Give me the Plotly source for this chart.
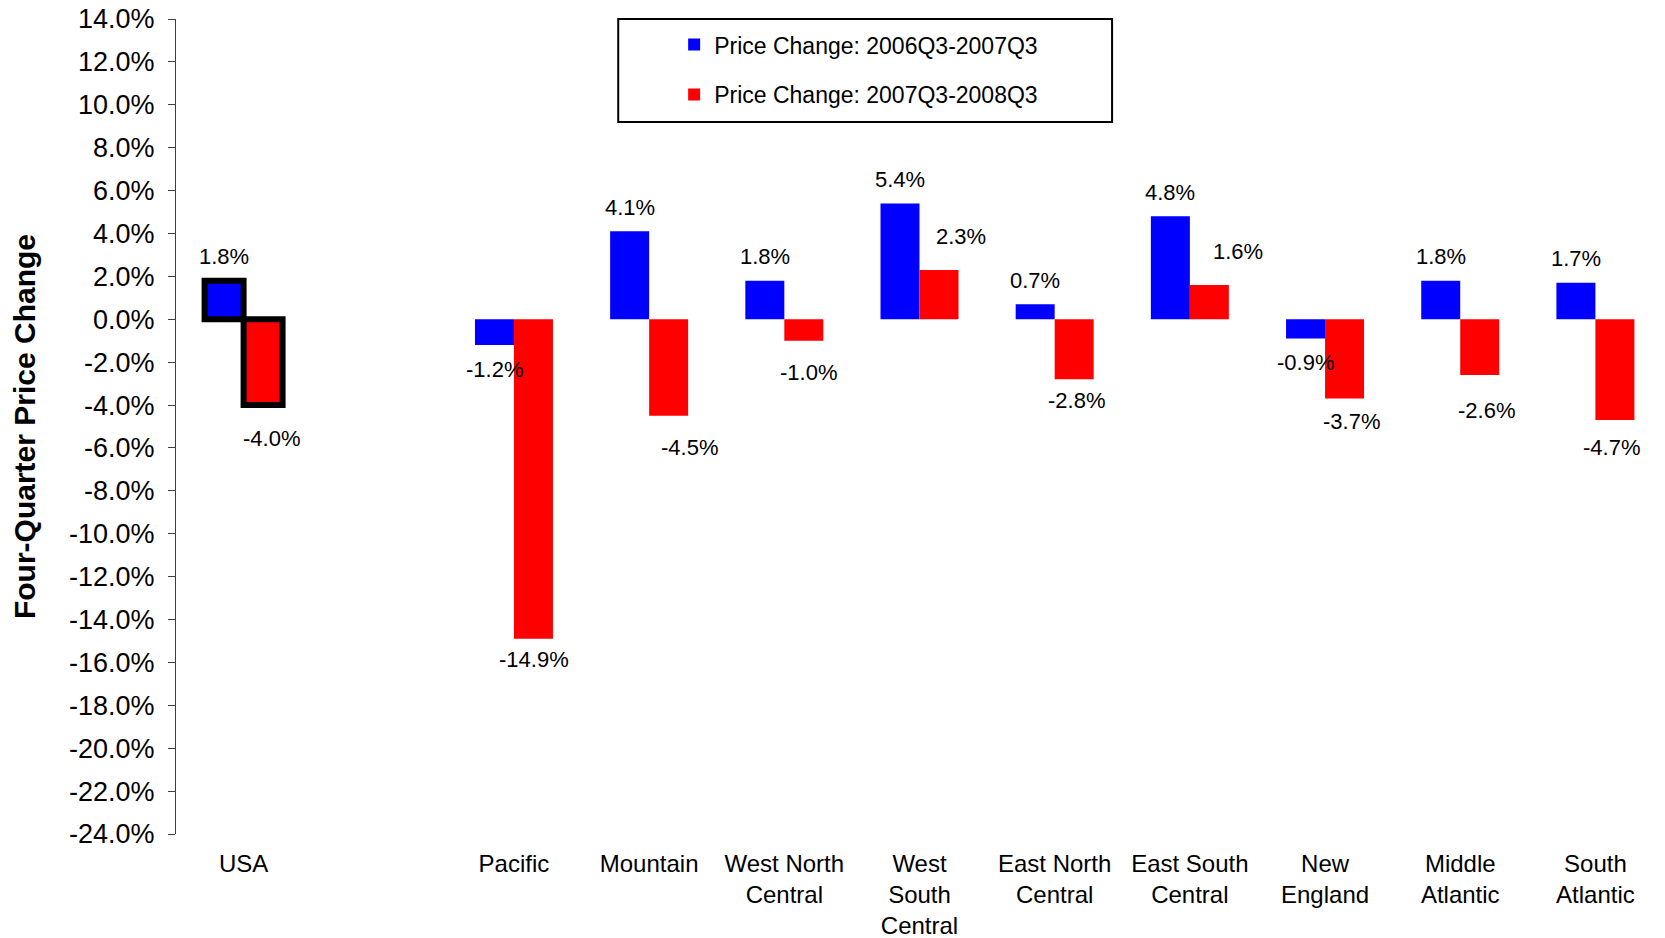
import plotly.graph_objects as go

# ---- data ----
categories = ["USA", " ", "Pacific", "Mountain", "West North<br>Central",
              "West<br>South<br>Central", "East North<br>Central",
              "East South<br>Central", "New<br>England", "Middle<br>Atlantic",
              "South<br>Atlantic"]
change_2006_2007 = [1.8, None, -1.2, 4.1, 1.8, 5.4, 0.7, 4.8, -0.9, 1.8, 1.7]
change_2007_2008 = [-4.0, None, -14.9, -4.5, -1.0, 2.3, -2.8, 1.6, -3.7, -2.6, -4.7]
series_names = ["Price Change: 2006Q3-2007Q3", "Price Change: 2007Q3-2008Q3"]
y_tick_values = list(range(-24, 15, 2))
y_tick_labels = [f"{v:.1f}%" for v in y_tick_values]

# ---- style ----
FONT = "Arial, Liberation Sans, sans-serif"
BLUE = "#0000FF"
RED = "#FF0000"
# manual label nudges (dx, dy in px; dy>0 means away from the bar end)
red_label_nudge = [(8, 33), None, (0, 21), (21, 32), (5, 32), (22, 33),
                   (2, 21), (29, 33), (7, 23), (7, 35), (-4, 27)]
blue_label_gap = 24
half_bar = 19.6

highlight_width = [6 if c == "USA" else 0 for c in categories]

# order points so the first drawn point is un-outlined (keeps legend icons clean)
order = list(range(1, len(categories))) + [0]

def reorder(seq):
    return [seq[i] for i in order]

fig = go.Figure()
fig.add_trace(go.Bar(
    x=reorder(categories), y=reorder(change_2006_2007), name=series_names[0],
    marker=dict(color=BLUE, line=dict(color="black", width=reorder(highlight_width))),
    legendgroup="a", hoverinfo="skip"))
fig.add_trace(go.Bar(
    x=reorder(categories), y=reorder(change_2007_2008), name=series_names[1],
    marker=dict(color=RED, line=dict(color="black", width=reorder(highlight_width))),
    legendgroup="b", hoverinfo="skip"))

annotations = []
for i, c in enumerate(categories):
    v = change_2006_2007[i]
    if v is not None:
        annotations.append(dict(
            x=c, y=v, xref="x", yref="y", text=f"{v:.1f}%", showarrow=False,
            xshift=-half_bar, yshift=blue_label_gap if v >= 0 else -blue_label_gap,
            font=dict(family=FONT, size=22, color="black")))
    v = change_2007_2008[i]
    if v is not None:
        dx, dy = red_label_nudge[i]
        annotations.append(dict(
            x=c, y=v, xref="x", yref="y", text=f"{v:.1f}%", showarrow=False,
            xshift=half_bar + dx, yshift=dy if v >= 0 else -dy,
            font=dict(family=FONT, size=22, color="black")))

ymin, ymax = -24, 14
zero_pos = (0 - ymin) / (ymax - ymin)

fig.update_layout(
    width=1665, height=938,
    margin=dict(l=176, r=2, t=19, b=104, autoexpand=False),
    paper_bgcolor="white", plot_bgcolor="white",
    font=dict(family=FONT, size=24, color="black"),
    barmode="group", bargap=0.423, bargroupgap=0,
    showlegend=True,
    legend=dict(x=0.335, xanchor="left", y=0.995, yanchor="top",
                font=dict(family=FONT, size=23, color="black"),
                tracegroupgap=17, bgcolor="rgba(0,0,0,0)", borderwidth=0,
                itemclick=False, itemdoubleclick=False),
    xaxis=dict(type="category", categoryorder="array", categoryarray=categories,
               range=[-0.5, len(categories) - 0.5],
               showline=False, showgrid=False, zeroline=False, ticks="",
               ticklabelstandoff=13, ticklabeloverflow="allow",
               tickfont=dict(family=FONT, size=24, color="black"),
               automargin=False, fixedrange=True),
    xaxis2=dict(overlaying="x", anchor="free", position=zero_pos,
                range=[-0.5, len(categories) - 0.5],
                tickvals=[i + 0.5 for i in range(len(categories))],
                showticklabels=False, ticks="outside", ticklen=7,
                tickcolor="#808080", tickwidth=1.5,
                showline=True, linecolor="#808080", linewidth=1.5,
                showgrid=False, zeroline=False, fixedrange=True),
    yaxis=dict(range=[ymin, ymax], tickvals=y_tick_values, ticktext=y_tick_labels,
               showline=True, linecolor="#404040", linewidth=1,
               ticks="outside", ticklen=7, tickcolor="#404040",
               ticklabelstandoff=8, ticklabeloverflow="allow",
               showgrid=False, zeroline=False,
               tickfont=dict(family=FONT, size=27, color="black"),
               title=dict(text="<b>Four-Quarter Price Change</b>", standoff=24,
                          font=dict(family=FONT, size=30, color="black")),
               automargin=False, fixedrange=True),
    annotations=annotations,
    shapes=[dict(type="rect", xref="paper", yref="paper",
                 x0=0.2974, x1=0.6295, y0=0.8737, y1=1.0,
                 line=dict(color="black", width=2), fillcolor="rgba(0,0,0,0)",
                 layer="above")],
)

fig.write_html("out.html", config={"displayModeBar": False},
               post_script="document.body.style.margin='0';")
